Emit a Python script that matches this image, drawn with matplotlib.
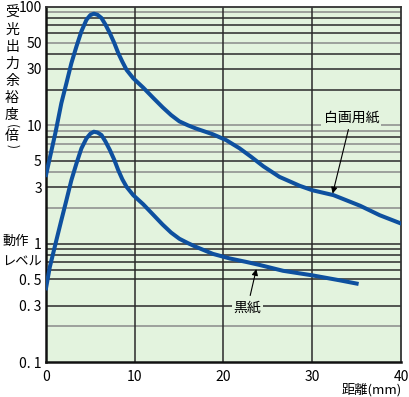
import matplotlib
matplotlib.use('agg')
import matplotlib.pyplot as plt

plt.rcParams['font.family'] = ['Noto Sans CJK JP', 'DejaVu Sans']

# 距離(mm) と 受光出力余裕度(倍)
x_white = [0, 1.09, 1.73, 2.3, 2.86, 3.43, 3.99, 4.56, 5.0, 5.39, 5.8, 6.25, 6.7, 7.2, 7.7, 8.14, 8.6,
           9.08, 9.83, 10.96, 12.1, 13.14, 14.1, 15.03, 16.0, 16.9, 18.8, 20.3, 21.8, 23.1, 24.5,
           26.3, 28.6, 30, 32.4, 35.4, 37.6, 40]
y_white = [3.8, 8.85, 15.4, 22.7, 33.5, 46.4, 62.3, 78, 85.5, 87.8, 86, 80.7, 71, 60, 49.5, 40.8, 34.5,
           29.4, 25, 20.8, 17.0, 14.2, 12.2, 10.8, 10.0, 9.4, 8.4, 7.5, 6.4, 5.43, 4.5,
           3.67, 3.08, 2.83, 2.57, 2.09, 1.74, 1.48]

x_black = [0, 0.42, 1.17, 1.73, 2.3, 2.86, 3.43, 3.99, 4.56, 5.0, 5.39, 5.8, 6.25, 6.7, 7.2, 7.7, 8.14,
           8.6, 9.08, 9.83, 10.96, 12.1, 13.14, 14.1, 15.03, 16.0, 16.9, 18.8, 20.7, 22.6, 24.1,
           26.7, 30, 33.1, 35]
y_black = [0.42, 0.63, 1.07, 1.58, 2.33, 3.44, 4.76, 6.38, 7.76, 8.5, 8.83, 8.7, 8.28, 7.3, 6.18, 5.1, 4.18,
           3.5, 3.02, 2.57, 2.15, 1.75, 1.45, 1.24, 1.10, 1.01, 0.94, 0.82, 0.75, 0.70, 0.66,
           0.59, 0.54, 0.49, 0.46]

y_ticks = [0.1, 0.3, 0.5, 1, 3, 5, 10, 30, 50, 100]
y_ticklabels = ['0. 1', '0. 3', '0. 5', '1', '3', '5', '10', '30', '50', '100']
x_ticks = [0, 10, 20, 30, 40]

# 補助線
h_grid = [0.2, 0.3, 0.5, 0.6, 0.7, 0.8, 0.9, 1,
          2, 3, 4, 5, 6, 7, 8, 9, 10,
          20, 30, 40, 50, 60, 70, 80, 90]
h_grid_dark = [0.3, 0.5, 0.6, 0.7, 0.8, 0.9, 1, 3, 5, 8, 20, 30, 40, 60, 70, 80]
v_grid = [10, 20, 30]

# 縦書き: 文字, 上からの位置(px), 回転
y_label_chars = ['受', '光', '出', '力', '余', '裕', '度', '(', '倍', ')']
y_label_pos = [13, 30, 47, 64, 81, 98, 115, 125.5, 136, 146.5]
y_label_rot = [0, 0, 0, 0, 0, 0, 0, -90, 0, -90]

BG = '#e3f3de'
LINE = '#0e509f'

fig = plt.figure(figsize=(4.10, 3.97), dpi=100)
ax = fig.add_axes([46/410, 1-362/397, 355/410, 355/397])
ax.set_facecolor(BG)
ax.set_yscale('log')
ax.set_xlim(0, 40)
ax.set_ylim(0.1, 100)

for v in h_grid:
    c = '#2a2a2a' if v in h_grid_dark else '#8a8a8a'
    ax.axhline(v, color=c, lw=1.1, zorder=1)
for v in v_grid:
    ax.axvline(v, color='#2a2a2a', lw=1.1, zorder=1)

ax.plot(x_white, y_white, color=LINE, lw=2.9, zorder=3, solid_joinstyle='round')
ax.plot(x_black, y_black, color=LINE, lw=2.9, zorder=3, solid_joinstyle='round')

ax.set_yticks(y_ticks)
ax.set_yticklabels(y_ticklabels)
ax.yaxis.set_minor_locator(matplotlib.ticker.NullLocator())
ax.set_xticks(x_ticks)
ax.tick_params(length=0, labelsize=10)
ax.tick_params(axis='x', pad=6)
ax.tick_params(axis='y', pad=3)
for s in ['left', 'bottom']:
    ax.spines[s].set_linewidth(1.8)
    ax.spines[s].set_color('#111111')
for s in ['top', 'right']:
    ax.spines[s].set_linewidth(1.3)
    ax.spines[s].set_color('#333333')

for ch, py, rot in zip(y_label_chars, y_label_pos, y_label_rot):
    fs = 8.5 if rot else 10
    fig.text(12/410, 1-py/397, ch, ha='center', va='center', fontsize=fs, rotation=rot)
fig.text(16/410, 1-241/397, '動作', ha='center', va='center', fontsize=9.5)
fig.text(22/410, 1-262/397, 'レベル', ha='center', va='center', fontsize=9.5)
fig.text(402/410, 1-390/397, '距離(mm)', ha='right', va='center', fontsize=9.5)

ax.annotate('白画用紙', xy=(32.3, 2.65), xytext=(34.4, 11.6),
            ha='center', va='center', fontsize=10,
            bbox=dict(boxstyle='square,pad=0.15', fc=BG, ec='none'),
            arrowprops=dict(arrowstyle='-|>', color='black', lw=0.8,
                            mutation_scale=9, shrinkA=2, shrinkB=0), zorder=4)
ax.annotate('黒紙', xy=(23.7, 0.61), xytext=(22.7, 0.29),
            ha='center', va='center', fontsize=10,
            bbox=dict(boxstyle='square,pad=0.15', fc=BG, ec='none'),
            arrowprops=dict(arrowstyle='-|>', color='black', lw=0.8,
                            mutation_scale=9, shrinkA=2, shrinkB=0), zorder=4)

fig.savefig('out.png', dpi=100)
